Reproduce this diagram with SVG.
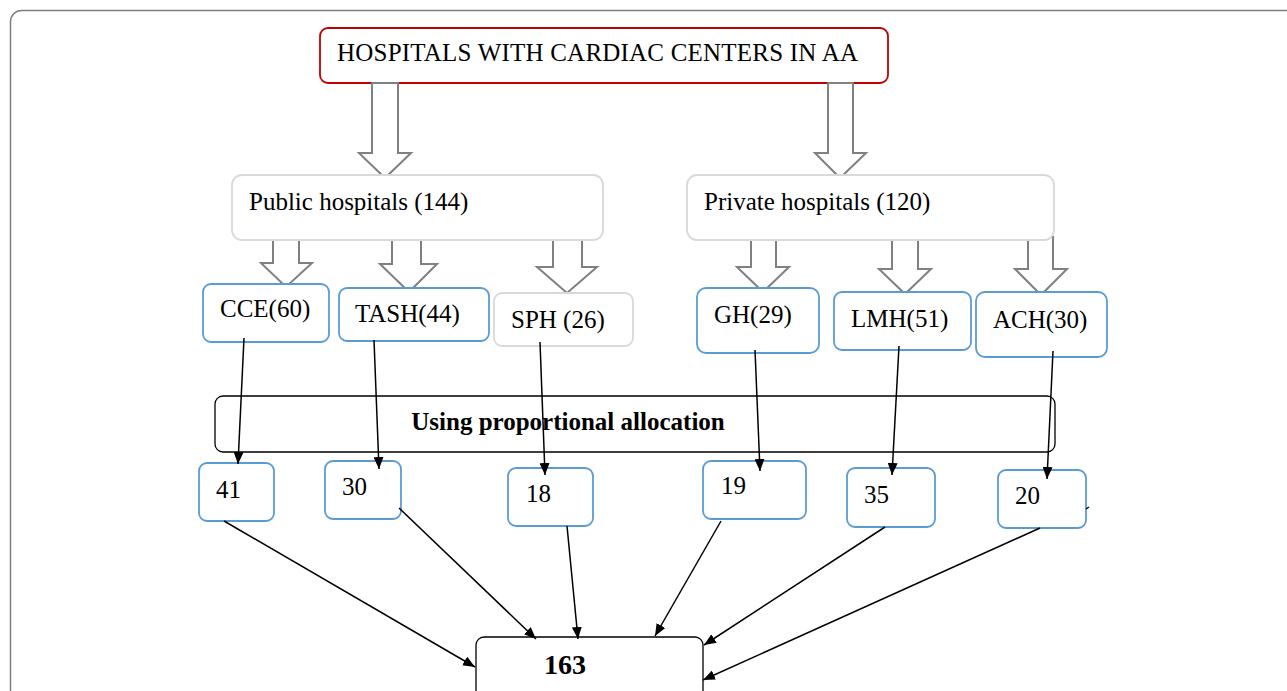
<svg xmlns="http://www.w3.org/2000/svg" width="1287" height="691" viewBox="0 0 1287 691">
<defs>
<style>
.t{font-family:"Liberation Serif","Times New Roman",serif;font-size:25px;fill:#000}
.b{font-weight:bold}
.blue{fill:#fff;stroke:#5b9bd5;stroke-width:1.8}
.gray{fill:#fff;stroke:#d9d9d9;stroke-width:1.8}
.blk{fill:#fff;stroke:#000;stroke-width:1.3}
.red{fill:#fff;stroke:#c00000;stroke-width:1.8}
.ba{fill:#fff;stroke:#808080;stroke-width:2;stroke-linejoin:miter}
.c{stroke:#000;stroke-width:1.5;fill:none}
</style>
<marker id="ah" viewBox="0 0 12 10" refX="12" refY="5" markerWidth="12" markerHeight="10" markerUnits="userSpaceOnUse" orient="auto">
<path d="M0,0 L12,5 L0,10 z" fill="#000"/>
</marker>
</defs>
<rect x="0" y="0" width="1287" height="691" fill="#fff"/>
<rect x="10.5" y="10.5" width="1310" height="720" rx="11" fill="none" stroke="#7f7f7f" stroke-width="1.5"/>

<g id="top"><rect class="red" x="320" y="28" width="568" height="55" rx="8"/><text class="t" x="337" y="61" textLength="521" lengthAdjust="spacing">HOSPITALS WITH CARDIAC CENTERS IN AA</text></g>

<g id="block-arrows">
<path class="ba" d="M372,83 H398 V153 H411 L385,178 L359,153 H372 Z"/>
<path class="ba" d="M828,83 H853 V153 H866 L840,178 L815,153 H828 Z"/>
<path class="ba" d="M273,240 H299 V263 H312 L286,287 L261,263 H273 Z"/>
<path class="ba" d="M392,240 H421 V264 H437 L409,292 L380,264 H392 Z"/>
<path class="ba" d="M553,240 H582 V267 H597 L567,293 L537,267 H553 Z"/>
<path class="ba" d="M751,240 H776 V267 H789 L763,292 L737,267 H751 Z"/>
<path class="ba" d="M892,239 H918 V269 H931 L905,294 L879,269 H892 Z"/>
<path class="ba" d="M1028,237 H1053 V269 H1067 L1041,295 L1015,269 H1028 Z"/>
</g>

<g id="public"><rect class="gray" x="232" y="175" width="371" height="65" rx="10"/><text class="t" x="249" y="210">Public hospitals (144)</text></g>
<g id="private"><rect class="gray" x="687" y="175" width="367" height="65" rx="10"/><text class="t" x="704" y="210">Private hospitals (120)</text></g>

<g id="cce"><rect class="blue" x="203" y="284" width="126" height="58" rx="8"/><text class="t" x="220" y="317">CCE(60)</text></g>
<g id="tash"><rect class="blue" x="339" y="288" width="150" height="53" rx="8"/><text class="t" x="355" y="322">TASH(44)</text></g>
<g id="sph"><rect class="gray" x="494" y="293" width="139" height="53" rx="8"/><text class="t" x="511" y="328">SPH (26)</text></g>
<g id="gh"><rect class="blue" x="697" y="288" width="122" height="65" rx="9"/><text class="t" x="714" y="323">GH(29)</text></g>
<g id="lmh"><rect class="blue" x="834" y="292" width="137" height="58" rx="8"/><text class="t" x="851" y="327">LMH(51)</text></g>
<g id="ach"><rect class="blue" x="976" y="292" width="131" height="65" rx="9"/><text class="t" x="993" y="328">ACH(30)</text></g>

<g id="alloc"><rect class="blk" x="215" y="396" width="840" height="56" rx="8"/><text class="t b" x="568" y="430" text-anchor="middle">Using proportional allocation</text></g>

<g id="n41"><rect class="blue" x="199" y="463" width="75" height="58" rx="8"/><text class="t" x="216" y="498">41</text></g>
<g id="n30"><rect class="blue" x="325" y="461" width="76" height="58" rx="8"/><text class="t" x="342" y="495">30</text></g>
<g id="n18"><rect class="blue" x="508" y="468" width="85" height="58" rx="8"/><text class="t" x="526" y="502">18</text></g>
<g id="n19"><rect class="blue" x="703" y="461" width="103" height="58" rx="8"/><text class="t" x="721" y="494">19</text></g>
<g id="n35"><rect class="blue" x="847" y="468" width="88" height="59" rx="8"/><text class="t" x="864" y="503">35</text></g>
<g id="n20"><rect class="blue" x="998" y="470" width="88" height="58" rx="8"/><text class="t" x="1015" y="504">20</text></g>

<g id="total"><rect class="blk" x="476" y="637" width="227" height="70" rx="8"/><text class="t b" x="544" y="674" style="font-size:28px">163</text></g>

<g id="connectors">
<line class="c" x1="244" y1="338" x2="238" y2="464" marker-end="url(#ah)"/>
<line class="c" x1="374" y1="340" x2="379" y2="469" marker-end="url(#ah)"/>
<line class="c" x1="540" y1="342" x2="545" y2="475" marker-end="url(#ah)"/>
<line class="c" x1="755" y1="350" x2="760" y2="471" marker-end="url(#ah)"/>
<line class="c" x1="899" y1="346" x2="892" y2="475" marker-end="url(#ah)"/>
<line class="c" x1="1053" y1="351" x2="1047" y2="479" marker-end="url(#ah)"/>
<line class="c" x1="224" y1="521" x2="475" y2="667" marker-end="url(#ah)"/>
<line class="c" x1="399" y1="508" x2="536" y2="639" marker-end="url(#ah)"/>
<line class="c" x1="567" y1="526" x2="578" y2="639" marker-end="url(#ah)"/>
<line class="c" x1="721" y1="521" x2="655" y2="636" marker-end="url(#ah)"/>
<line class="c" x1="885" y1="527" x2="704" y2="645" marker-end="url(#ah)"/>
<line class="c" x1="1040" y1="528" x2="703" y2="680" marker-end="url(#ah)"/>
<line class="c" x1="1086" y1="509" x2="1089" y2="507"/>
</g>
</svg>
